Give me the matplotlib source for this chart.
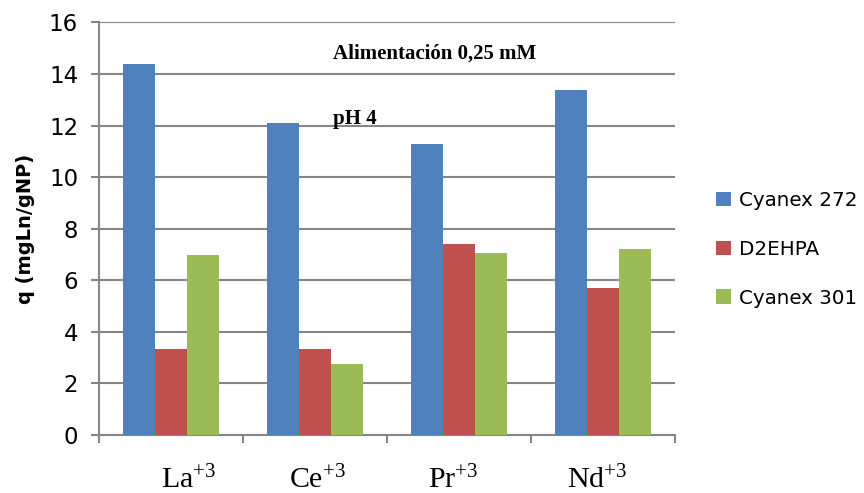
import numpy as np
import matplotlib
matplotlib.use("Agg")
import matplotlib.pyplot as plt

plt.rcParams["mathtext.fontset"] = "custom"
plt.rcParams["mathtext.rm"] = "Liberation Serif"
plt.rcParams["mathtext.default"] = "rm"

# data
ions = ["La", "Ce", "Pr", "Nd"]
cyanex272 = [14.40, 12.11, 11.29, 13.37]
d2ehpa = [3.33, 3.35, 7.41, 5.69]
cyanex301 = [6.97, 2.76, 7.06, 7.23]
series_names = ["Cyanex 272", "D2EHPA", "Cyanex 301"]
colors = ["#4F81BD", "#C0504D", "#9BBB59"]
label_shift = np.array([0.12, 0.015, -0.04, -0.04])  # labels in the original are hand placed

fig = plt.figure(figsize=(8.64, 4.93), dpi=100)
ax = fig.add_axes([0.1146, 0.1176, 0.6666, 0.8368])

x = np.arange(len(ions))
w = 0.222
for i, (vals, name, c) in enumerate(zip([cyanex272, d2ehpa, cyanex301], series_names, colors)):
    ax.bar(x + (i - 1) * w, vals, width=w, color=c, label=name, zorder=3)

ax.set_xlim(-0.5, 3.5)
ax.set_ylim(0, 16)
ax.set_yticks(np.arange(0, 17, 2))
ax.yaxis.grid(True, color="#868686", lw=1.5, zorder=0)

# category labels in between boundary ticks
ax.set_xticks(np.arange(-0.5, 4.0, 1.0))
ax.set_xticklabels([])
ax.set_xticks(x + label_shift, minor=True)
ax.set_xticklabels([f"{s}$^{{+3}}$" for s in ions], minor=True,
                   family="Liberation Serif", fontsize=21.5)
ax.tick_params(axis="x", which="minor", length=0, pad=22)
ax.tick_params(axis="x", which="major", length=6, width=1.5, color="#868686")
ax.tick_params(axis="y", length=6, width=1.5, color="#868686", labelsize=16.5, pad=9)

for s in ["top", "right"]:
    ax.spines[s].set_visible(False)
for s in ["left", "bottom"]:
    ax.spines[s].set_color("#868686")
    ax.spines[s].set_linewidth(1.5)

ax.set_ylabel("q (mgLn/gNP)", fontsize=14, fontweight="bold", labelpad=10)

ax.text(0.406, 0.925, "Alimentación 0,25 mM", transform=ax.transAxes,
        family="Liberation Serif", fontweight="bold", fontsize=15, va="center")
ax.text(0.406, 0.765, "pH 4", transform=ax.transAxes,
        family="Liberation Serif", fontweight="bold", fontsize=15, va="center")

ax.legend(loc="center left", bbox_to_anchor=(1.04, 0.45), frameon=False,
          fontsize=14.3, handlelength=0.75, handleheight=0.75, labelspacing=1.5,
          handletextpad=0.4)

fig.savefig("out.png", dpi=100)
